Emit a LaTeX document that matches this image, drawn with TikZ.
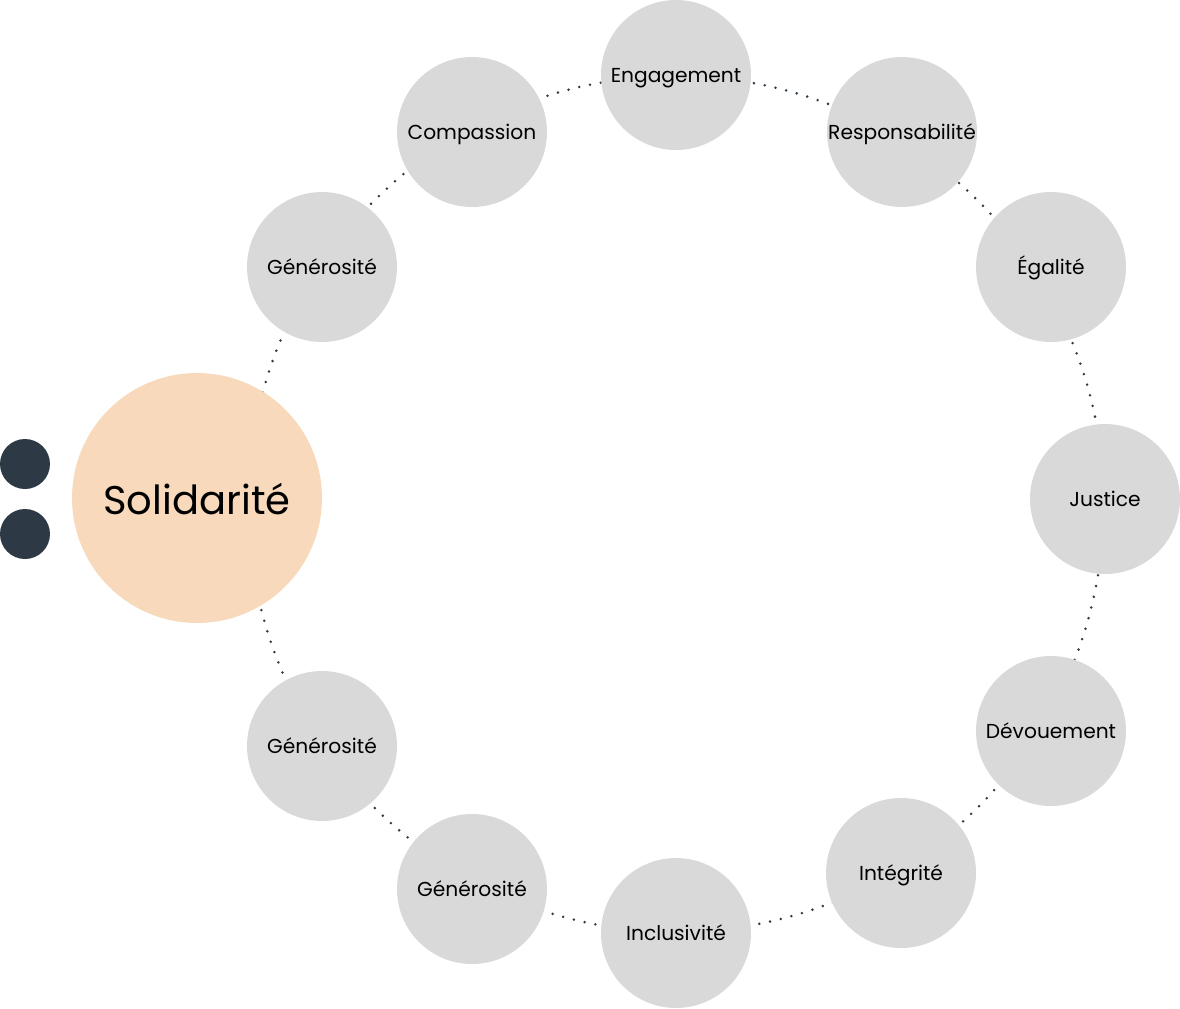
\documentclass[tikz,border=0pt]{standalone}
\usepackage{fontspec}
\setmainfont{Poppins}
\definecolor{bubble}{HTML}{D9D9D9}
\definecolor{peach}{HTML}{F8D9BB}
\definecolor{ink}{HTML}{2D3A45}

\begin{document}
\begin{tikzpicture}[
        x=0.02cm, y=-0.02cm,
        value/.style={circle, fill=bubble, minimum size=3cm, inner sep=0pt, text height=9pt, text depth=0pt, font=\fontsize{11.5}{13}\selectfont},
        core/.style={circle, fill=peach, minimum size=5cm, inner sep=0pt, text height=18.5pt, text depth=0pt, font=\fontsize{22.8}{26}\selectfont},
        marker/.style={circle, fill=ink, minimum size=1cm, inner sep=0pt},
        ringline/.style={ink, line width=1.6pt, line cap=round, dash pattern=on 0pt off 0.22cm}
    ]
        \useasboundingbox (0,0) rectangle (1180,1008);

        % Dotted ring
        \coordinate (hub) at (676,504);
        \draw[ringline] (hub) circle[radius=8.56cm];

        % Centre value
        \node[core] (solidarite) at (197,498) {Solidarité};
        \node[marker] (dotA) at (25,464) {};
        \node[marker] (dotB) at (25,534) {};

        % Values round the ring
        \node[value] (engagement) at (676,75) {Engagement};
        \node[value] (responsabilite) at (902,132) {Responsabilité};
        \node[value] (egalite) at (1051,267) {Égalité};
        \node[value] (justice) at (1105,499) {Justice};
        \node[value] (devouement) at (1051,731) {Dévouement};
        \node[value] (integrite) at (901,873) {Intégrité};
        \node[value] (inclusivite) at (676,933) {Inclusivité};
        \node[value] (generositeC) at (472,889) {Générosité};
        \node[value] (generositeB) at (322,746) {Générosité};
        \node[value] (generositeA) at (322,267) {Générosité};
        \node[value] (compassion) at (472,132) {Compassion};
    \end{tikzpicture}
\end{document}
